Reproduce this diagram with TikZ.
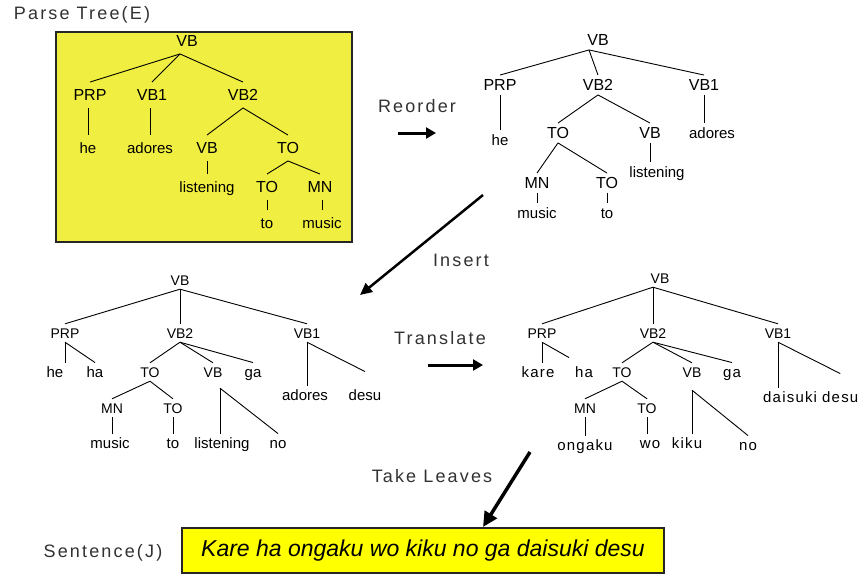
\documentclass[tikz,border=0pt]{standalone}
\usepackage{fontspec}
\setmainfont{Liberation Sans}
\newfontfamily\spacedfont[LetterSpace=12]{Liberation Sans}
\newfontfamily\leaffont[LetterSpace=8]{Liberation Sans}
\usetikzlibrary{arrows.meta}

\definecolor{treebox}{RGB}{240,238,64}
\definecolor{sentfill}{RGB}{255,255,0}
\definecolor{labelgray}{RGB}{50,50,50}

\tikzset{
  ntA/.style={inner xsep=0pt, inner ysep=7pt, text height=11.5pt, text depth=0pt, font=\fontsize{16}{16}\selectfont},
  lfA/.style={inner xsep=0pt, inner ysep=7pt, text height=11pt, text depth=0pt, font=\fontsize{15}{15}\selectfont},
  ntB/.style={ntA, inner ysep=4pt},
  lfB/.style={lfA, inner ysep=4pt},
  ntC/.style={inner xsep=0pt, inner ysep=4pt, text height=10pt, text depth=0pt, font=\fontsize{14}{14}\selectfont},
  lfC/.style={inner xsep=0pt, inner ysep=4pt, text height=10.5pt, text depth=0pt, font=\fontsize{15}{15}\selectfont},
  lfD/.style={lfC, font=\leaffont\fontsize{15}{15}\selectfont},
  treeline/.style={draw=black, line width=0.9pt},
  stage/.style={font=\spacedfont\fontsize{18}{18}\selectfont, text=labelgray, inner sep=0pt},
  bigarrow/.style={line width=3pt, -{Triangle[length=10pt,width=11pt]}},
}

\begin{document}
\begin{tikzpicture}[x=1pt,y=-1pt]
\useasboundingbox (0,0) rectangle (861,575);
\fill[white] (0,0) rectangle (861,575);

% ---------- English parse tree ----------
\node[stage] (title) at (82,15) {Parse Tree(E)};
\node[draw=black!85, line width=1.3pt, fill=treebox, minimum width=296pt, minimum height=210pt, inner sep=0pt] (panel) at (204,137) {};

\node[ntA] (a_vb) at (187,41) {VB};
\node[ntA] (a_prp) at (90,95) {PRP};
\node[ntA] (a_vbone) at (152,95) {VB1};
\node[ntA] (a_vbtwo) at (243,95) {VB2};
\node[lfA] (a_he) at (88,148) {he};
\node[lfA] (a_adores) at (150,148) {adores};
\node[ntA] (a_vb3) at (207,148) {VB};
\node[ntA] (a_to) at (288,148) {TO};
\node[lfA] (a_listening) at (207,187) {listening};
\node[ntA] (a_to2) at (267,187) {TO};
\node[ntA] (a_mn) at (320,187) {MN};
\node[lfA] (a_to3) at (267,223) {to};
\node[lfA] (a_music) at (322,223) {music};

\coordinate (a_top) at ([xshift=-7pt]a_vb.south);
\draw[treeline] (a_top) -- (a_prp.north);
\draw[treeline] (a_top) -- (a_vbone.north);
\draw[treeline] (a_top) -- (a_vbtwo.north);
\draw[treeline] (a_prp.south -| a_he) -- (a_he.north);
\draw[treeline] (a_vbone.south -| a_adores) -- (a_adores.north);
\draw[treeline] (a_vbtwo.south) -- (a_vb3.north);
\draw[treeline] (a_vbtwo.south) -- (a_to.north);
\draw[treeline] (a_vb3.south) -- (a_listening.north);
\draw[treeline] (a_to.south) -- (a_to2.north);
\draw[treeline] (a_to.south) -- (a_mn.north);
\draw[treeline] (a_to2.south) -- (a_to3.north);
\draw[treeline] (a_mn.south -| a_music) -- (a_music.north);

% ---------- Reorder ----------
\node[stage] (reorder) at (417,106) {Reorder};
\coordinate (reoS) at (398,133);
\coordinate (reoE) at (436,133);
\draw[bigarrow] (reoS) -- (reoE);

\node[ntB] (b_vb) at (598,40) {VB};
\node[ntB] (b_prp) at (500,85) {PRP};
\node[ntB] (b_vbtwo) at (598,85) {VB2};
\node[ntB] (b_vbone) at (704,85) {VB1};
\node[lfB] (b_he) at (500,140) {he};
\node[ntB] (b_to) at (558,133) {TO};
\node[ntB] (b_vb3) at (650,133) {VB};
\node[lfB] (b_adores) at (712,133) {adores};
\node[ntB] (b_mn) at (537,183) {MN};
\node[ntB] (b_to2) at (607,183) {TO};
\node[lfB] (b_listening) at (657,172) {listening};
\node[lfB] (b_music) at (537,213) {music};
\node[lfB] (b_to3) at (607,213) {to};

\coordinate (b_top) at ([xshift=-9pt]b_vb.south);
\draw[treeline] (b_top) -- (b_prp.north);
\draw[treeline] (b_top) -- (b_vbtwo.north);
\draw[treeline] (b_top) -- (b_vbone.north);
\draw[treeline] (b_prp.south) -- (b_prp.south |- b_he.north);
\draw[treeline] (b_vbtwo.south) -- (b_to.north);
\draw[treeline] (b_vbtwo.south) -- (b_vb3.north);
\draw[treeline] (b_vbone.south) -- (b_vbone.south |- b_adores.north);
\draw[treeline] (b_vb3.south) -- (b_vb3.south |- b_listening.north);
\draw[treeline] (b_to.south) -- (b_mn.north);
\draw[treeline] (b_to.south) -- (b_to2.north);
\draw[treeline] (b_mn.south) -- (b_mn.south |- b_music.north);
\draw[treeline] (b_to2.south) -- (b_to3.north);

% ---------- Insert ----------
\node[stage] (insert) at (461,260) {Insert};
\coordinate (insS) at (483,195);
\coordinate (insE) at (360,295);
\draw[line width=2.5pt, -{Triangle[length=12pt,width=11pt]}] (insS) -- (insE);

\node[ntC] (c_vb) at (180,280) {VB};
\node[ntC] (c_prp) at (65,333) {PRP};
\node[ntC] (c_vbtwo) at (180,333) {VB2};
\node[ntC] (c_vbone) at (307,333) {VB1};
\node[lfC] (c_he) at (55,372) {he};
\node[lfC] (c_ha) at (95,372) {ha};
\node[ntC] (c_to) at (150,372) {TO};
\node[ntC] (c_vb3) at (213,372) {VB};
\node[lfC] (c_ga) at (253,372) {ga};
\node[lfC] (c_adores) at (305,395) {adores};
\node[lfC] (c_desu) at (365,395) {desu};
\node[ntC] (c_mn) at (112,408) {MN};
\node[ntC] (c_to2) at (173,408) {TO};
\node[lfC] (c_music) at (110,443) {music};
\node[lfC] (c_to3) at (173,443) {to};
\node[lfC] (c_listening) at (222,443) {listening};
\node[lfC] (c_no) at (278,443) {no};

\draw[treeline] (c_vb.south) -- (c_prp.north);
\draw[treeline] (c_vb.south) -- (c_vbtwo.north);
\draw[treeline] (c_vb.south) -- (c_vbone.north);
\draw[treeline] (c_prp.south) -- (c_prp.south |- c_he.north);
\draw[treeline] (c_prp.south) -- (c_ha.north);
\draw[treeline] (c_vbtwo.south) -- (c_to.north);
\draw[treeline] (c_vbtwo.south) -- (c_vb3.north);
\draw[treeline] (c_vbtwo.south) -- (c_ga.north);
\draw[treeline] (c_to.south) -- (c_mn.north);
\draw[treeline] (c_to.south) -- (c_to2.north);
\draw[treeline] (c_mn.south) -- (c_mn.south |- c_music.north);
\draw[treeline] (c_to2.south) -- (c_to3.north);
\coordinate (c_apex) at ([shift={(7pt,-7pt)}]c_vb3.south);
\draw[treeline] (c_apex) -- (c_apex |- c_listening.north);
\draw[treeline] (c_apex) -- (c_no.north);
\draw[treeline] (c_vbone.south) -- (c_vbone.south |- c_adores.north);
\draw[treeline] (c_vbone.south) -- ([yshift=14pt]c_desu.north);

% ---------- Translate ----------
\node[stage] (translate) at (440,338) {Translate};
\coordinate (trS) at (428,365);
\coordinate (trE) at (483,365);
\draw[bigarrow] (trS) -- (trE);

\node[ntC] (d_vb) at (660,278) {VB};
\node[ntC] (d_prp) at (542,333) {PRP};
\node[ntC] (d_vbtwo) at (653,333) {VB2};
\node[ntC] (d_vbone) at (778,333) {VB1};
\node[lfD] (d_kare) at (538,372) {kare};
\node[lfD] (d_ha) at (584,372) {ha};
\node[ntC] (d_to) at (622,372) {TO};
\node[ntC] (d_vb3) at (692,372) {VB};
\node[lfD] (d_ga) at (732,372) {ga};
\node[lfD, anchor=west] (d_daisuki) at (763,397) {daisuki};
\node[lfD, anchor=west] (d_desu) at (822,397) {desu};
\node[ntC] (d_mn) at (585,408) {MN};
\node[ntC] (d_to2) at (647,408) {TO};
\node[lfD] (d_ongaku) at (585,445) {ongaku};
\node[lfD] (d_wo) at (650,443) {wo};
\node[lfD] (d_kiku) at (687,443) {kiku};
\node[lfD] (d_no) at (748,445) {no};

\coordinate (d_top) at ([xshift=-7pt]d_vb.south);
\draw[treeline] (d_top) -- (d_prp.north);
\draw[treeline] (d_top) -- (d_vbtwo.north);
\draw[treeline] (d_top) -- (d_vbone.north);
\draw[treeline] (d_prp.south) -- (d_prp.south |- d_kare.north);
\draw[treeline] (d_prp.south) -- ([shift={(-15pt,5pt)}]d_ha.north);
\draw[treeline] (d_vbtwo.south) -- (d_to.north);
\draw[treeline] (d_vbtwo.south) -- (d_vb3.north);
\draw[treeline] (d_vbtwo.south) -- (d_ga.north);
\draw[treeline] (d_to.south) -- (d_mn.north);
\draw[treeline] (d_to.south) -- (d_to2.north);
\draw[treeline] (d_mn.south) -- (d_mn.south |- d_ongaku.north);
\draw[treeline] (d_to2.south) -- (d_to2.south |- d_wo.north);
\coordinate (d_apex) at ([yshift=-9pt]d_vb3.south);
\draw[treeline] (d_apex) -- (d_apex |- d_kiku.north);
\draw[treeline] (d_apex) -- (d_no.north);
\draw[treeline] (d_vbone.south) -- (d_vbone.south |- d_daisuki.north);
\draw[treeline] (d_vbone.south) -- ([yshift=14pt]d_desu.north);

% ---------- Take Leaves ----------
\node[stage] (leaves) at (432,476) {Take Leaves};
\coordinate (tlS) at (530,452);
\coordinate (tlE) at (483,527);
\draw[line width=3.5pt, -{Triangle[length=15pt,width=14pt]}] (tlS) -- (tlE);

% ---------- Japanese sentence ----------
\node[stage] (sentlabel) at (103,553) {Sentence(J)};
\node[draw=black!85, line width=1.5pt, fill=sentfill, minimum width=482pt, minimum height=45pt, inner sep=0pt,
      font=\fontsize{23}{23}\selectfont\itshape] (sentence) at (423,550.5) {Kare ha ongaku wo kiku no ga daisuki desu};
\end{tikzpicture}
\end{document}
